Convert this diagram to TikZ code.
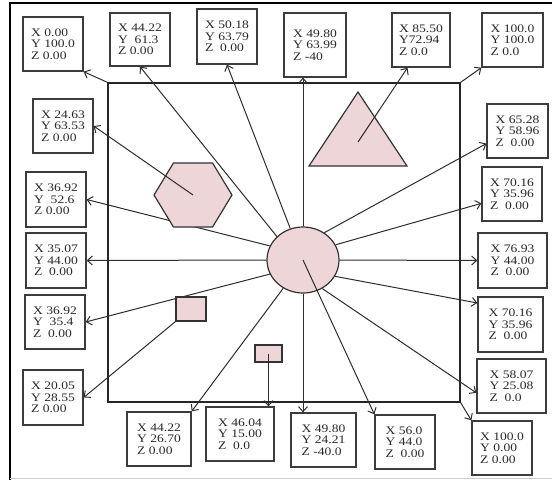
\documentclass[tikz,border=0pt]{standalone}
\usepackage{fontspec}
\setmainfont{Liberation Serif}
\newfontfamily\lblfont[FakeStretch=1.18]{Liberation Serif}
\usepackage{xcolor}
\usetikzlibrary{arrows.meta,shapes.geometric,backgrounds}

\definecolor{pinkfill}{RGB}{238,213,216}
\definecolor{boxgray}{RGB}{60,60,60}
\definecolor{linegray}{RGB}{45,45,45}
\definecolor{txtgray}{RGB}{40,40,40}

\begin{document}
\begin{tikzpicture}[
  x={(1pt,0)}, y={(0,-1pt)},
  box/.style={draw=boxgray, line width=1.3pt, fill=white, align=left, text=txtgray,
    font=\lblfont\fontsize{11.5}{11.7}\selectfont, inner sep=0pt,
    minimum width=60pt, minimum height=54pt},
  con/.style={draw=linegray, line width=1pt},
  arr/.style={con, -{Straight Barb[length=5pt,width=9pt]}},
  shp/.style={draw=black!80, line width=1.2pt, fill=pinkfill, inner sep=0pt}
]
\useasboundingbox (0,0) rectangle (552,480);

% page frame
\draw[line width=1.6pt] (552,3) -- (10,3) -- (10,480);
\draw[gray!40] (10,478.5) -- (552,478.5);

% coordinate boxes, top row
\node[box] (nw) at (53,44) {X 0.00\\Y 100.0\\Z 0.00};
\node[box, minimum height=53pt] (t1) at (140,39.5) {X 44.22\\Y~ 61.3\\Z 0.00};
\node[box, minimum height=55pt] (t2) at (227,36.5) {X 50.18\\Y 63.79\\Z~ 0.00};
\node[box, minimum width=62pt, minimum height=64pt] (t3) at (315,45) {X 49.80\\Y 63.99\\Z -40};
\node[box, minimum width=58pt] (t4) at (421,40) {X 85.50\\Y72.94\\Z 0.0};
\node[box, minimum width=61pt] (ne) at (512.5,40) {X 100.0\\Y 100.0\\Z 0.0};

% left column
\node[box] (l1) at (63,126) {X 24.63\\Y 63.53\\Z 0.00};
\node[box, minimum height=55pt] (l2) at (56,199.5) {X 36.92\\Y~ 52.6\\Z 0.00};
\node[box, minimum height=55pt] (l3) at (56,260.5) {X 35.07\\Y 44.00\\Z~ 0.00};
\node[box] (l4) at (55,322) {X 36.92\\Y~ 35.4\\Z~ 0.00};
\node[box, minimum height=55pt] (l5) at (53,397.5) {X 20.05\\Y 28.55\\Z 0.00};

% bottom row
\node[box, minimum width=64pt] (b1) at (159,439) {X 44.22\\Y 26.70\\Z 0.00};
\node[box, minimum width=68pt] (b2) at (240,434) {X 46.04\\Y 15.00\\Z~ 0.0};
\node[box, minimum width=65pt] (b3) at (323.5,440) {X 49.80\\Y 24.21\\Z -40.0};
\node[box] (b4) at (405,442) {X 56.0\\Y 44.0\\Z~ 0.00};

% right column
\node[box, minimum width=61pt] (r1) at (517.5,131) {X 65.28\\Y 58.96\\Z~ 0.00};
\node[box] (r2) at (512,194) {X 70.16\\Y 35.96\\Z~ 0.00};
\node[box, minimum width=69pt, minimum height=55pt] (r3) at (512.5,260.5) {X 76.93\\Y 44.00\\Z~ 0.00};
\node[box, minimum width=65pt, minimum height=55pt] (r4) at (510.5,324.5) {X 70.16\\Y 35.96\\Z~ 0.00};
\node[box, minimum width=69pt] (r5) at (511.5,386) {X 58.07\\Y 25.08\\Z~ 0.0};
\node[box] (se) at (502,448) {X 100.0\\Y 0.00\\Z 0.00};

% shapes
\node[shp, ellipse, minimum width=72pt, minimum height=66pt] (cir) at (303,260) {};
\node[shp, regular polygon, regular polygon sides=6, minimum size=78pt, yscale=0.95] (hex) at (193,195) {};
\node[shp, minimum width=30pt, minimum height=24pt] (sq) at (191,309) {};
\node[shp, minimum width=27pt, minimum height=17pt] (rc) at (268.5,353.5) {};
\coordinate (tri) at (358,142);
\draw[shp] (358,92) -- (407,166) -- (309,166) -- cycle;

\begin{pgfonlayer}{background}
\node[draw=black!85, line width=1.4pt, minimum width=352pt, minimum height=319pt] (frame) at (284,242.5) {};
\draw[arr] (frame.north west) -- (nw.south east);
\draw[arr] (frame.north east) -- (ne.south west);
\draw[arr] (frame.south east) -- (se.north west);
\draw[arr] (cir.138) -- (t1.south);
\draw[arr] (cir.112) -- (t2.south);
\draw[arr] (cir.north) -- (cir |- t3.south);
\draw[arr] (cir.157) -- (l2.east);
\draw[arr] (cir.west) -- (l3.east);
\draw[arr] (cir.203) -- (l4.east);
\draw[arr] (cir.235) -- (b1.north east);
\draw[arr] (cir.south) -- (cir |- b3.north);
\draw[arr] (cir.304) -- (r5.191);
\draw[arr] (cir.333) -- (r4.147);
\draw[arr] (cir.east) -- (r3.west);
\draw[arr] (cir.25) -- (r2.197);
\draw[arr] (cir.52) -- (r1.202);
\end{pgfonlayer}

\draw[arr] (hex.center) -- (l1.east);
\draw[arr] (tri) -- (t4.244);
\draw[arr] (rc.center) -- (rc |- b2.north);
\draw[arr] (sq.south west) -- (l5.east);
\draw[arr] (cir.center) -- (b4.north west);
\end{tikzpicture}
\end{document}
